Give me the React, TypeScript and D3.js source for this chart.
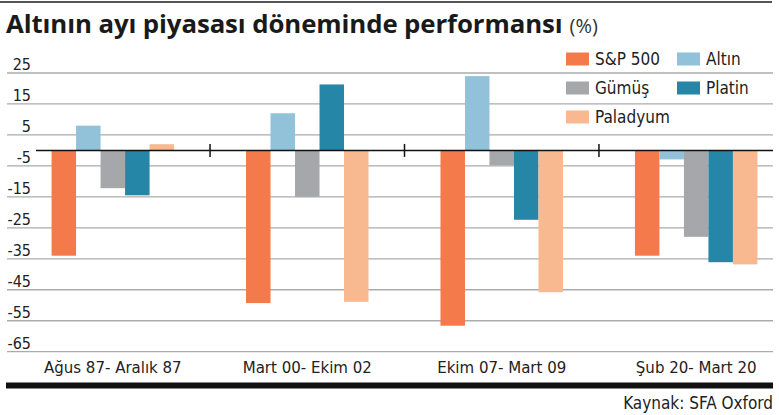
import React from "react";
import * as d3 from "d3";

const categories = ["Ağus 87- Aralık 87", "Mart 00- Ekim 02", "Ekim 07- Mart 09", "Şub 20- Mart 20"];
const seriesNames = ["S&P 500", "Altın", "Gümüş", "Platin", "Paladyum"];
const sp500 = [-34, -49.3, -56.6, -34];
const altin = [8, 12, 24, -2.9];
const gumus = [-12.2, -15, -4.8, -27.9];
const platin = [-14.5, 21.3, -22.4, -36.1];
const paladyum = [2, -48.9, -45.8, -36.8];
const yTicks = [25, 15, 5, -5, -15, -25, -35, -45, -55, -65];
const colors = ["#F47A4C", "#92C2DA", "#A6A7AB", "#2686A7", "#F9B990"];

const W = 779;
const H = 415;
const condensed = "'Liberation Sans Narrow', 'DejaVu Sans Condensed', 'Roboto Condensed', Roboto, sans-serif";

export default function App() {
  const values = [sp500, altin, gumus, platin, paladyum];
  const y = d3.scaleLinear().domain([-65, 25]).range([351.7, 73]);
  const x0 = d3.scaleBand<string>().domain(categories).range([36, 773]).paddingInner(0.37).paddingOuter(0.08);
  const x1 = d3.scaleBand<string>().domain(seriesNames).range([0, x0.bandwidth()]);
  const step = x0.step();
  const gap = step - x0.bandwidth();
  const separators = categories.slice(0, -1).map((c) => (x0(c) as number) + x0.bandwidth() + gap / 2);

  const legendPos = [
    { x: 566, y: 59 },
    { x: 677, y: 59 },
    { x: 566, y: 88 },
    { x: 677, y: 88 },
    { x: 566, y: 117 },
  ];

  return (
    <svg width={W} height={H} style={{ display: "block", position: "absolute", left: 0, top: 0, background: "#fff" }}>
      <line x1={0} x2={772} y1={2} y2={2} stroke="#555" strokeWidth={2} />
      <text x={6} y={33} fontFamily="'Open Sans', Lato, sans-serif" fontWeight={700} fontSize={25.8} fill="#1a1a1a" letterSpacing={-0.1}>
        Altının ayı piyasası döneminde performansı
        <tspan fontWeight={400} fontSize={20} fill="#333" dx={7} letterSpacing={0}>(%)</tspan>
      </text>

      {yTicks.map((t) => (
        <g key={t}>
          <line x1={7} x2={773} y1={y(t)} y2={y(t)} stroke="#ababab" strokeWidth={1.3} />
          <text x={31} y={y(t) - 3} textAnchor="end" fontFamily={condensed} fontSize={16} fill="#222">
            {t}
          </text>
        </g>
      ))}

      {categories.map((c, ci) => (
        <g key={c} transform={`translate(${x0(c)},0)`}>
          {seriesNames.map((s, si) => {
            const v = values[si][ci];
            return (
              <rect
                key={s}
                x={x1(s)}
                y={y(Math.max(0, v))}
                width={x1.bandwidth()}
                height={Math.abs(y(v) - y(0))}
                fill={colors[si]}
              />
            );
          })}
        </g>
      ))}

      <line x1={36} x2={773} y1={y(0)} y2={y(0)} stroke="#111" strokeWidth={1.5} />
      {separators.map((sx, i) => (
        <line key={i} x1={sx} x2={sx} y1={y(0) - 6.5} y2={y(0) + 6.5} stroke="#111" strokeWidth={1.5} />
      ))}

      {categories.map((c) => (
        <text
          key={c}
          x={(x0(c) as number) + x0.bandwidth() / 2}
          y={373}
          textAnchor="middle"
          fontFamily={condensed}
          fontSize={16.7}
          fill="#222"
        >
          {c}
        </text>
      ))}

      {seriesNames.map((s, i) => (
        <g key={s}>
          <rect x={legendPos[i].x} y={legendPos[i].y - 6.5} width={23} height={13} fill={colors[i]} />
          <text x={legendPos[i].x + 29} y={legendPos[i].y + 6} fontFamily={condensed} fontSize={17} fill="#222">
            {s}
          </text>
        </g>
      ))}

      <rect x={6} y={382.5} width={767} height={6} fill="#111" />
      <text x={773} y={409} textAnchor="end" fontFamily={condensed} fontSize={17} fill="#222">
        Kaynak: SFA Oxford
      </text>
    </svg>
  );
}
